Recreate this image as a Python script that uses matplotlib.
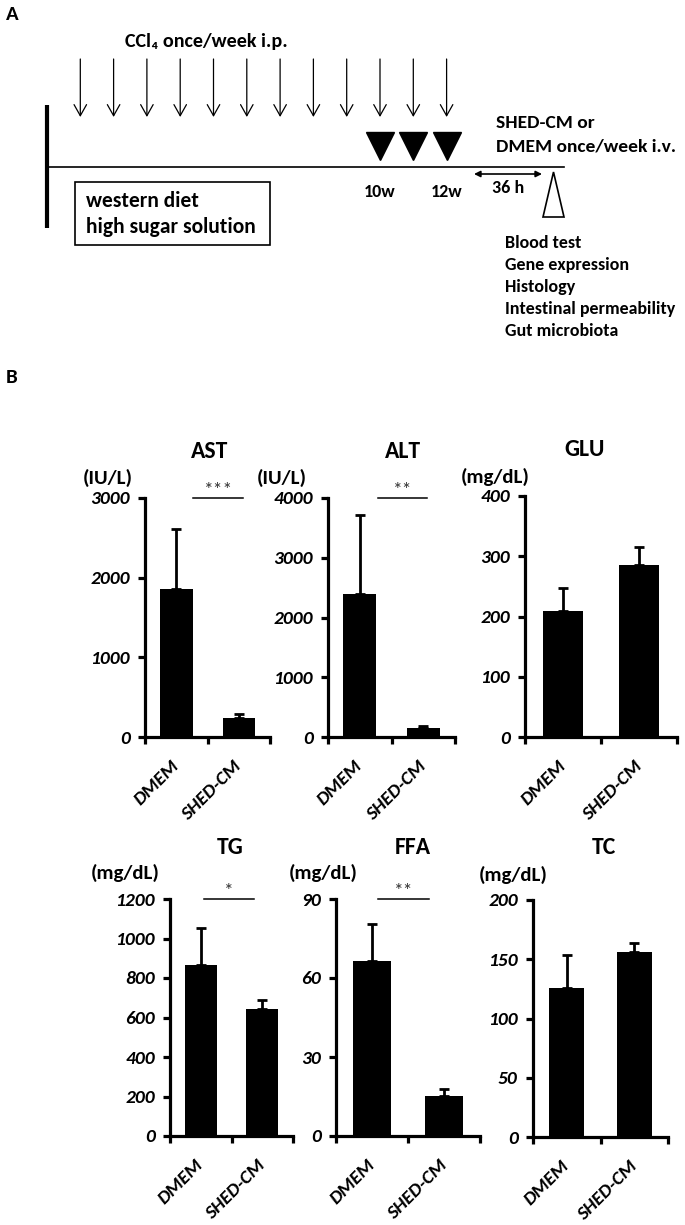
import matplotlib
matplotlib.use('Agg')
import matplotlib.pyplot as plt
from matplotlib.patches import Rectangle, Polygon

plt.rcParams['font.family'] = ['Carlito', 'DejaVu Sans']
plt.rcParams['font.weight'] = 'bold'

W, H = 685, 1225

#-----------------------------------------------------------------------
# data

groups = ['DMEM', 'SHED-CM']

ast_mean = [1860, 240]
ast_sd = [750, 50]
alt_mean = [2400, 150]
alt_sd = [1315, 36]
glu_mean = [209, 285]
glu_sd = [39, 30]
tg_mean = [866, 643]
tg_sd = [187, 46]
ffa_mean = [66.5, 15.2]
ffa_sd = [14, 2.6]
tc_mean = [126, 156]
tc_sd = [28, 8]

ast_ticks = [0, 1000, 2000, 3000]
alt_ticks = [0, 1000, 2000, 3000, 4000]
glu_ticks = [0, 100, 200, 300, 400]
tg_ticks = [0, 200, 400, 600, 800, 1000, 1200]
ffa_ticks = [0, 30, 60, 90]
tc_ticks = [0, 50, 100, 150, 200]

# schedule (weeks)
ccl4_weeks = list(range(1, 13))
treat_weeks = [10, 11, 12]
week_labels = {10: '10w', 12: '12w'}
readouts = ['Blood test', 'Gene expression', 'Histology',
            'Intestinal permeability', 'Gut microbiota']

#-----------------------------------------------------------------------

fig = plt.figure(figsize=(W / 100, H / 100), dpi=100)


def ftxt(x, y, s, **kw):
    fig.text(x / W, 1 - y / H, s, **kw)


def wk(w):
    # week -> pixel position on the schematic
    return 47 + 33.3 * w


# ---- panel A: schematic
ax0 = fig.add_axes([0, 1 - 360 / H, 1, 360 / H])
ax0.set_xlim(0, W)
ax0.set_ylim(360, 0)
ax0.axis('off')

for w in ccl4_weeks:
    ax0.annotate('', xy=(wk(w), 117), xytext=(wk(w), 59),
                 arrowprops=dict(arrowstyle='->,head_length=0.8,head_width=0.45',
                                 lw=0.9, color='black', shrinkA=0, shrinkB=0))
ax0.plot([wk(0), wk(0)], [105, 228], color='black', lw=3, solid_capstyle='butt')
ax0.plot([wk(0), 564], [167, 167], color='black', lw=1.2)
ax0.plot([wk(w) for w in treat_weeks], [146] * len(treat_weeks), 'v',
         ms=20, color='black', mec='black')
for w, lab in week_labels.items():
    ax0.text(wk(w), 192, lab, ha='center', va='center', fontsize=13)

ax0.annotate('', xy=(542, 174), xytext=(474, 174),
             arrowprops=dict(arrowstyle='<|-|>', mutation_scale=9, lw=1.2,
                             color='black', shrinkA=0, shrinkB=0))
ax0.text(508, 188, '36 h', ha='center', va='center', fontsize=13)
ax0.add_patch(Polygon([(543, 217), (564, 217), (553.5, 172)], closed=True,
                      fill=False, lw=1.2, ec='black'))
ax0.add_patch(Rectangle((75, 182), 195, 63, fill=False, lw=1.2, ec='black'))
ax0.text(86, 201, 'western diet', ha='left', va='center', fontsize=15.5)
ax0.text(86, 227, 'high sugar solution', ha='left', va='center', fontsize=15.5)
ax0.text(125, 42, 'CCl\u2084 once/week i.p.', ha='left', va='center', fontsize=14.5)
ax0.text(496, 123, 'SHED-CM or', ha='left', va='center', fontsize=14)
ax0.text(496, 147, 'DMEM once/week i.v.', ha='left', va='center', fontsize=14)
for i, r in enumerate(readouts):
    ax0.text(505, 243 + 22 * i, r, ha='left', va='center', fontsize=13)

ftxt(12, 15, 'A', ha='center', va='center', fontsize=15)
ftxt(12, 378, 'B', ha='center', va='center', fontsize=15)

# ---- panel B: bar charts
panels = [
    # name, unit, mean, sd, ticks, box (l, r, top, bottom), title xy, unit xy, sig
    ('AST', '(IU/L)', ast_mean, ast_sd, ast_ticks, (145, 270, 498, 737),
     (210, 452), (108, 478), ('***', 0.77, 1.57)),
    ('ALT', '(IU/L)', alt_mean, alt_sd, alt_ticks, (328, 455, 498, 737),
     (403, 452), (282, 478), ('**', 0.79, 1.56)),
    ('GLU', '(mg/dL)', glu_mean, glu_sd, glu_ticks, (525, 677, 496, 737),
     (585, 450), (495, 477), None),
    ('TG', '(mg/dL)', tg_mean, tg_sd, tg_ticks, (170, 293, 899, 1136),
     (230, 848), (125, 873), ('*', 0.55, 1.37)),
    ('FFA', '(mg/dL)', ffa_mean, ffa_sd, ffa_ticks, (336, 480, 899, 1136),
     (413, 848), (323, 873), ('**', 0.58, 1.29)),
    ('TC', '(mg/dL)', tc_mean, tc_sd, tc_ticks, (533, 668, 900, 1137),
     (604, 848), (513, 875), None),
]

xpos = [0.5, 1.5]
for name, unit, mean, sd, ticks, box, tpos, upos, sig in panels:
    l, r, t, b = box
    ax = fig.add_axes([l / W, 1 - b / H, (r - l) / W, (b - t) / H])
    ax.bar(xpos, mean, width=0.52, color='black')
    ax.errorbar(xpos, mean, yerr=[[0] * len(sd), sd], fmt='none', ecolor='black',
                elinewidth=2, capsize=3.5, capthick=2)
    ax.set_xlim(0, 2)
    ax.set_ylim(0, ticks[-1])
    ax.set_yticks(ticks)
    ax.set_yticklabels([str(v) for v in ticks], fontsize=14, fontstyle='italic')
    ax.set_xticks([0, 1, 2])
    ax.set_xticklabels([])
    ax.set_xticks(xpos, minor=True)
    ax.set_xticklabels(groups, minor=True, rotation=45, ha='right', va='center',
                       rotation_mode='anchor', fontsize=14, fontstyle='italic')
    for s in ['top', 'right']:
        ax.spines[s].set_visible(False)
    for s in ['left', 'bottom']:
        ax.spines[s].set_linewidth(2.3)
    ax.tick_params(axis='both', which='major', direction='out', length=5, width=2.3)
    ax.tick_params(axis='y', pad=6)
    ax.tick_params(axis='x', which='minor', length=0, pad=19)

    ftxt(tpos[0], tpos[1], name, ha='center', va='center', fontsize=17)
    ftxt(upos[0], upos[1], unit, ha='center', va='center', fontsize=15)

    if sig is not None:
        stars, x0, x1 = sig
        ax.plot([x0, x1], [ticks[-1], ticks[-1]], color='black', lw=1.1, clip_on=False)
        ax.text((x0 + x1) / 2, ticks[-1], stars, ha='center', va='bottom',
                fontsize=14, fontweight='normal', color='#333333')

fig.savefig('out.png', dpi=100)
